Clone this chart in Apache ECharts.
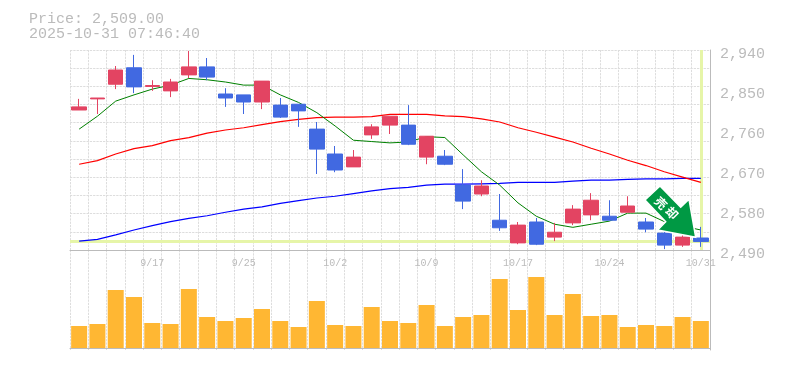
<!DOCTYPE html>
<html>
<head>
<meta charset="utf-8">
<title>Price chart</title>
<script src="https://cdn.jsdelivr.net/npm/echarts@6/dist/echarts.min.js"></script>
<style>
  html, body { margin: 0; padding: 0; background: #fff; }
  #main { width: 785px; height: 370px; }
</style>
</head>
<body>
<div id="main"></div>
<script>
const dates = ['9/10','9/11','9/12','9/16','9/17','9/18','9/19','9/22','9/24','9/25','9/26','9/29','9/30','10/1','10/2','10/3','10/6','10/7','10/8','10/9','10/10','10/14','10/15','10/16','10/17','10/20','10/21','10/22','10/23','10/24','10/27','10/28','10/29','10/30','10/31'];
const opens = [2805,2830,2863,2900,2858,2848,2884,2902,2841,2839,2823,2816,2818,2762,2706,2677,2749,2771,2771,2699,2701,2636,2616,2557,2506,2553,2519,2551,2569,2566,2575,2553,2528,2501,2517];
const closes = [2812,2832,2895,2857,2860,2868,2902,2879,2832,2823,2870,2789,2803,2717,2670,2699,2767,2791,2728,2746,2683,2600,2634,2540,2546,2503,2530,2582,2602,2557,2589,2537,2501,2519,2509];
const lows = [2805,2796,2852,2843,2848,2834,2877,2872,2812,2796,2807,2787,2767,2661,2665,2677,2740,2751,2726,2683,2681,2582,2611,2533,2503,2501,2510,2546,2557,2557,2575,2530,2492,2497,2497];
const highs = [2830,2832,2904,2929,2872,2875,2938,2922,2854,2839,2870,2832,2818,2778,2724,2715,2773,2791,2816,2746,2715,2672,2647,2616,2553,2562,2551,2591,2618,2602,2611,2562,2540,2525,2542];
const maShort = [2762,2791,2825,2839,2852,2861,2876,2873,2868,2861,2861,2839,2822,2799,2769,2737,2734,2731,2733,2745,2743,2704,2666,2636,2596,2566,2548,2541,2548,2555,2573,2573,2554,2544,2535];
const maMid = [2683,2691,2706,2718,2725,2736,2743,2753,2760,2765,2772,2779,2784,2788,2789,2789,2790,2795,2795,2795,2792,2790,2785,2778,2765,2755,2744,2733,2719,2706,2692,2680,2666,2654,2642];
const maLong = [2510,2514,2524,2535,2545,2554,2561,2567,2575,2582,2587,2595,2601,2607,2611,2617,2623,2628,2631,2636,2638,2638,2639,2640,2642,2642,2642,2645,2647,2647,2649,2650,2650,2651,2651];
const volumes = [22,24,58,51,25,24,59,31,27,30,39,27,21,47,23,22,41,27,25,43,22,31,33,69,38,71,33,54,32,33,21,23,22,31,27];
const lastPrice = 2509;
const lastDate = '10/31';
const priceTicks = [2490, 2940];
const headerLines = ['Price: 2,509.00', '2025-10-31 07:46:40'];
const arrowText = ['売', '却'];

const chart = echarts.init(document.getElementById('main'), null, { renderer: 'canvas' });

const FRAME = '#bbb';
const DOTTED = { color: '#ddd', type: [2.3, 1], width: 1 };
const MONO = '"Liberation Mono", monospace';

function maSeries(name, data, color, width) {
  return {
    name: name,
    type: 'line',
    data: data,
    z: 2,
    symbol: 'none',
    silent: true,
    lineStyle: { color: color, width: width }
  };
}

chart.setOption({
  animation: false,
  backgroundColor: '#fff',
  title: {
    text: headerLines.join('\n'),
    left: 24,
    top: 7,
    textStyle: { color: FRAME, fontFamily: MONO, fontSize: 15, fontWeight: 'normal', lineHeight: 15 }
  },
  grid: [
    { left: 70, width: 640, top: 50, height: 200 },
    { left: 70, width: 640, top: 250, height: 100 }
  ],
  xAxis: [
    {
      type: 'category',
      gridIndex: 0,
      data: dates,
      axisTick: { show: false },
      axisLine: { onZero: false, lineStyle: { color: FRAME } },
      axisLabel: {
        color: FRAME,
        fontFamily: MONO,
        fontSize: 10,
        margin: 8,
        interval: (i) => i % 5 === 4
      },
      splitLine: { show: true, interval: 0, lineStyle: DOTTED }
    },
    {
      type: 'category',
      gridIndex: 1,
      data: dates,
      axisTick: { show: false },
      axisLabel: { show: false },
      axisLine: { lineStyle: { color: FRAME } },
      splitLine: { show: true, interval: 0, lineStyle: DOTTED }
    }
  ],
  yAxis: [
    {
      type: 'value',
      gridIndex: 0,
      position: 'right',
      min: priceTicks[0],
      max: priceTicks[1],
      interval: 90,
      axisTick: { show: false },
      axisLine: { show: true, lineStyle: { color: FRAME } },
      splitLine: { show: false },
      axisLabel: {
        color: FRAME,
        fontFamily: MONO,
        fontSize: 15,
        margin: 10,
        verticalAlign: 'top',
        lineHeight: 8,
        formatter: (v) => v.toLocaleString('en-US')
      }
    },
    {
      // background lattice, not tied to the price ticks
      type: 'value',
      gridIndex: 0,
      position: 'left',
      min: 0,
      max: 11,
      interval: 1,
      axisTick: { show: false },
      axisLine: { show: false },
      axisLabel: { show: false },
      splitLine: { show: true, lineStyle: DOTTED }
    },
    {
      type: 'value',
      gridIndex: 1,
      position: 'right',
      min: -2,
      max: 98,
      axisTick: { show: false },
      axisLabel: { show: false },
      axisLine: { show: true, lineStyle: { color: FRAME } },
      splitLine: { show: false }
    }
  ],
  series: [
    {
      name: 'Now',
      type: 'line',
      data: [],
      z: 1,
      silent: true,
      markLine: {
        z: 1,
        silent: true,
        symbol: 'none',
        animation: false,
        label: { show: false },
        lineStyle: { color: '#e6f5a8', type: 'solid', width: 3 },
        data: [{ yAxis: lastPrice }, { xAxis: lastDate }]
      }
    },
    maSeries('MA long', maLong, '#0000ff', 1.2),
    maSeries('MA mid', maMid, '#ff0000', 1.2),
    maSeries('MA short', maShort, '#008000', 1),
    {
      name: 'Price',
      type: 'candlestick',
      z: 3,
      barWidth: 15,
      data: dates.map((d, i) => [opens[i], closes[i], lows[i], highs[i]]),
      itemStyle: {
        color: '#e34462',
        borderColor: '#e34462',
        color0: '#4169e1',
        borderColor0: '#4169e1',
        borderWidth: 1
      }
    },
    {
      name: 'Volume',
      type: 'bar',
      xAxisIndex: 1,
      yAxisIndex: 2,
      barWidth: 16,
      data: volumes,
      itemStyle: { color: '#ffb733' }
    }
  ],
  graphic: [
    {
      type: 'polygon',
      z: 100,
      silent: true,
      shape: {
        points: [[660, 186], [680.7, 207.3], [689, 199.3], [695.7, 237.3], [657.7, 230], [665.7, 221.7], [645, 200]]
      },
      style: { fill: '#009944', stroke: '#fff', lineWidth: 1.5 }
    },
    {
      type: 'text',
      z: 101,
      silent: true,
      x: 661,
      y: 203,
      rotation: -Math.PI / 4,
      style: { text: arrowText[0], fill: '#fff', font: 'bold 12px "Noto Sans CJK JP"', align: 'center', verticalAlign: 'middle' }
    },
    {
      type: 'text',
      z: 101,
      silent: true,
      x: 672,
      y: 213,
      rotation: -Math.PI / 4,
      style: { text: arrowText[1], fill: '#fff', font: 'bold 12px "Noto Sans CJK JP"', align: 'center', verticalAlign: 'middle' }
    }
  ]
});
</script>
</body>
</html>
